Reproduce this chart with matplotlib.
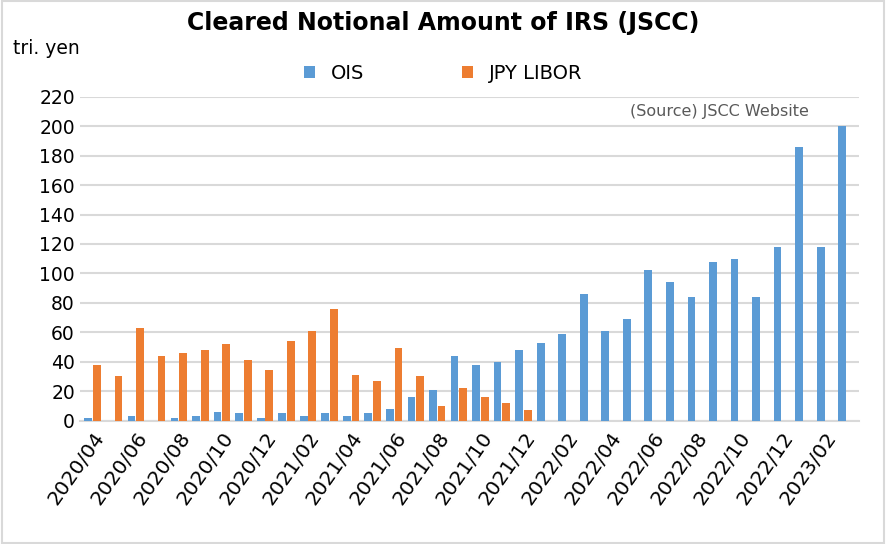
import numpy as np
import matplotlib.pyplot as plt

months = ([f"2020/{m:02d}" for m in range(4, 13)] + [f"2021/{m:02d}" for m in range(1, 13)]
          + [f"2022/{m:02d}" for m in range(1, 13)] + [f"2023/{m:02d}" for m in range(1, 4)])
ois = [2, 0, 3, 0, 2, 3, 6, 5, 2, 5, 3, 5, 3, 5, 8, 16, 21, 44, 38, 40, 48,
       53, 59, 86, 61, 69, 102, 94, 84, 108, 110, 84, 118, 186, 118, 200]
libor = [38, 30, 63, 44, 46, 48, 52, 41, 34, 54, 61, 76, 31, 27, 49, 30, 10, 22, 16, 12, 7,
         0, 0, 0, 0, 0, 0, 0, 0, 0, 0, 0, 0, 0, 0, 0]

fig = plt.figure(figsize=(8.86, 5.44), dpi=100)
ax = fig.add_axes([0.09, 0.227, 0.88, 0.595])
x = np.arange(len(months))
w = 0.36
ax.bar(x - w / 2 - 0.02, ois, w, color='#5b9bd5', label='OIS', zorder=3)
ax.bar(x + w / 2 + 0.02, libor, w, color='#ed7d31', label='JPY LIBOR', zorder=3)
ax.set_xlim(-0.6, len(months) - 0.4)
ax.set_ylim(0, 220)
ax.set_yticks(range(0, 221, 20))
ax.yaxis.grid(True, color='#d9d9d9', linewidth=1.5, zorder=0)
ax.set_xticks(x[::2])
ax.set_xticklabels(months[::2], rotation=55, ha='right', rotation_mode='anchor', fontsize=14.5)
ax.tick_params(axis='y', labelsize=13.5, length=0)
ax.tick_params(axis='x', length=0, pad=6)
for s in ['top', 'right', 'left']:
    ax.spines[s].set_visible(False)
ax.spines['bottom'].set_color('#d9d9d9')
ax.spines['bottom'].set_linewidth(1.5)

fig.text(0.5, 0.945, 'Cleared Notional Amount of IRS (JSCC)', ha='center', fontsize=17, fontweight='bold')
fig.text(0.015, 0.90, 'tri. yen', fontsize=13.5)
ax.text(0.935, 0.94, '(Source) JSCC Website', transform=ax.transAxes, ha='right', fontsize=11.5, color='#595959')
fig.legend(loc='center', bbox_to_anchor=(0.5, 0.865), ncol=2, frameon=False, fontsize=14,
           handlelength=0.6, handleheight=0.6, columnspacing=5)
fig.patches.append(plt.Rectangle((0.002, 0.002), 0.996, 0.996, transform=fig.transFigure,
                                 fill=False, edgecolor='#d9d9d9', linewidth=1.5))
plt.savefig('out.png', dpi=100, facecolor='white')
